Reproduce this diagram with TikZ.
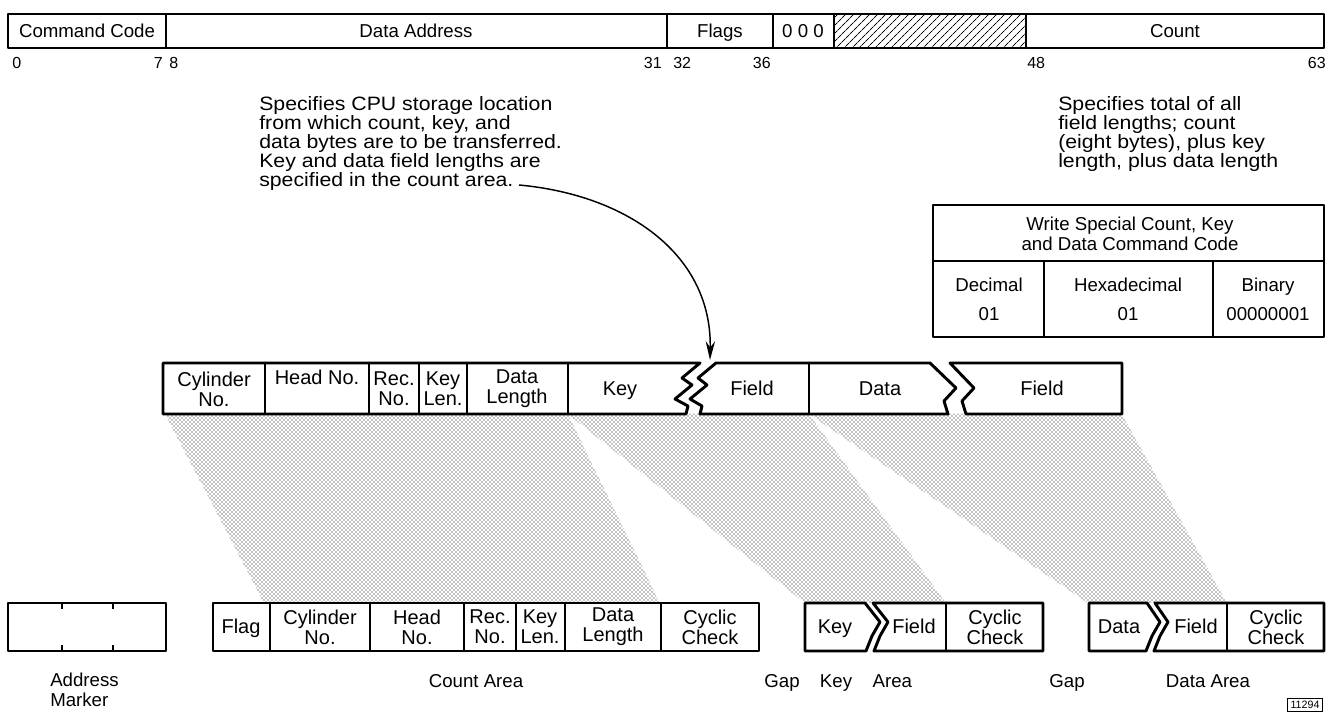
\documentclass[tikz,border=0pt]{standalone}
\usepackage{fontspec}
\setmainfont{Liberation Sans}
\newfontfamily\widefont[FakeStretch=1.1]{Liberation Sans}
\usetikzlibrary{arrows.meta}
\usetikzlibrary{patterns}
\usetikzlibrary{patterns.meta}

\begin{document}
\begin{tikzpicture}[x=0.75pt,y=-0.75pt,>={Stealth[length=14pt,width=7pt]},
		box/.style={draw,line width=2.2pt,line join=round,fill=white},
		sep/.style={draw,line width=1.6pt},
		cell/.style={font=\fontsize{15}{15}\selectfont,align=center,inner sep=0pt},
		lbl/.style={font=\fontsize{14}{15}\selectfont,inner sep=0pt},
		one/.style={text height=10.4pt,text depth=0pt},
		note/.style={font=\widefont\fontsize{14.5}{14.25}\selectfont,align=left,inner sep=0pt,anchor=north west},
		bit/.style={font=\fontsize{12}{12}\selectfont,inner sep=0pt},
		halftone/.style={pattern=crosshatch dots,pattern color=black}
		]
		\useasboundingbox (0,0) rectangle (1329,720);

		% CCW layout
		\fill[pattern={Lines[angle=45,distance=4pt,line width=.7pt]}] (834,14) rectangle (1026,48);
		\draw[box,fill=none] (8,14) rectangle (1324,48);
		\foreach \x in {166,667,773,834,1026}
			\draw[sep] (\x,14) -- (\x,48);
		\node[lbl,one] (cmd) at (87,31) {Command Code};
		\node[lbl,one] (addr) at (416,31) {Data Address};
		\node[lbl,one] (flags) at (720,31) {Flags};
		\node[lbl,one] (zeros) at (803,31) {0 0 0};
		\node[lbl,one] (count) at (1175,31) {Count};
		\foreach \p/\a/\t in {12/west/0,163/east/7,169/west/8,662/east/31,673/west/32,771/east/36,1027/west/48,1326/east/63}
			\node[bit,anchor=\a] (bit\t) at (\p,63) {\t};

		% notes
		\node[note] (cpunote) at (259,96) {Specifies CPU storage location\\from which count, key, and\\data bytes are to be transferred.\\Key and data field lengths are\\specified in the count area.};
		\node[note] (totalnote) at (1058,96) {Specifies total of all\\field lengths; count\\(eight bytes), plus key\\length, plus data length};

		% command code table
		\draw[box] (933,205) rectangle (1324,337);
		\draw[sep] (933,261) -- (1324,261);
		\draw[sep] (1044,261) -- (1044,337);
		\draw[sep] (1213,261) -- (1213,337);
		\node[lbl,align=center] (tabtitle) at (1130,234) {Write Special Count, Key\\and Data Command Code};
		\node[lbl,one] (dec) at (989,285) {Decimal};
		\node[lbl,one] (hex) at (1128,285) {Hexadecimal};
		\node[lbl,one] (bin) at (1268,285) {Binary};
		\node[lbl,one] (decval) at (989,314) {01};
		\node[lbl,one] (hexval) at (1128,314) {01};
		\node[lbl,one] (binval) at (1268,314) {00000001};

		% halftone bands
		\fill[halftone] (165,414) -- (568,414) -- (660,603) -- (264,603) -- cycle;
		\fill[halftone] (568,414) -- (809,414) -- (946,603) -- (805,603) -- cycle;
		\fill[halftone] (809,414) -- (1122,414) -- (1227,603) -- (1088,603) -- cycle;

		% record on track
		\draw[box] (163,363) -- (700,363) -- (682,378) -- (692,385) -- (675,399) -- (688,406) -- (686,414) -- (163,414) -- cycle;
		\draw[box] (716,363) -- (930,363) -- (956,388) -- (944,401) -- (948,414) -- (700,414) -- (702,406) -- (690,399) -- (707,385) -- (698,378) -- cycle;
		\draw[box] (950,363) -- (1122,363) -- (1122,414) -- (966,414) -- (962,401) -- (974,388) -- cycle;
		\foreach \x in {265,369,419,467,568,809}
			\draw[sep] (\x,363) -- (\x,414);
		\node[cell] (cyl) at (214,389) {Cylinder\\No.};
		\node[cell,one,anchor=north] (head) at (317,370) {Head No.};
		\node[cell] (rec) at (394,389) {Rec.\\No.};
		\node[cell] (klen) at (443,389) {Key\\Len.};
		\node[cell] (dlen) at (517,389) {Data\\Length};
		\node[cell,one] (key) at (620,389) {Key};
		\node[cell,one] (kfield) at (752,389) {Field};
		\node[cell,one] (data) at (880,389) {Data};
		\node[cell,one] (dfield) at (1042,389) {Field};

		% arrow from note
		\coordinate (from) at (519,185);
		\coordinate (brk) at (710,360);
		\draw[->,line width=1.1pt] (from) .. controls (628,195) and (712,255) .. (brk);

		% address marker
		\draw[box] (8,603) rectangle (166,651);
		\foreach \x in {62,113}{
			\draw[sep] (\x,603) -- (\x,609);
			\draw[sep] (\x,651) -- (\x,645);
		}
		% count area
		\draw[box] (213,603) rectangle (759,651);
		\foreach \x in {270,370,464,516,565,661}
			\draw[sep] (\x,603) -- (\x,651);
		\node[cell,one] (cflag) at (241,627) {Flag};
		\node[cell] (ccyl) at (320,627) {Cylinder\\No.};
		\node[cell] (chead) at (417,627) {Head\\No.};
		\node[cell] (crec) at (490,627) {Rec.\\No.};
		\node[cell] (cklen) at (540,627) {Key\\Len.};
		\node[cell] (cdlen) at (613,627) {Data\\Length};
		\node[cell] (ccheck) at (710,627) {Cyclic\\Check};
		% key area
		\draw[box] (805,603) -- (865,603) -- (880,622) -- (872,636) -- (866,651) -- (805,651) -- cycle;
		\draw[box] (873,603) -- (1043,603) -- (1043,651) -- (874,651) -- (880,636) -- (888,622) -- cycle;
		\draw[sep] (946,603) -- (946,651);
		\node[cell,one] (kkey) at (835,627) {Key};
		\node[cell,one] (kfld) at (914,627) {Field};
		\node[cell] (kcheck) at (995,627) {Cyclic\\Check};
		% data area
		\draw[box] (1089,603) -- (1147,603) -- (1160,622) -- (1152,636) -- (1146,651) -- (1089,651) -- cycle;
		\draw[box] (1155,603) -- (1324,603) -- (1324,651) -- (1154,651) -- (1160,636) -- (1168,622) -- cycle;
		\draw[sep] (1227,603) -- (1227,651);
		\node[cell,one] (ddata) at (1119,627) {Data};
		\node[cell,one] (dfld) at (1196,627) {Field};
		\node[cell] (dcheck) at (1276,627) {Cyclic\\Check};

		% area names
		\node[lbl,align=left,anchor=north west] (marker) at (50,673) {Address\\Marker};
		\node[lbl,one] (countarea) at (476,681) {Count Area};
		\node[lbl,one] (gap1) at (782,681) {Gap};
		\node[lbl,one] (keyarea) at (866,681) {Key\hspace{1.1em}Area};
		\node[lbl,one] (gap2) at (1067,681) {Gap};
		\node[lbl,one] (dataarea) at (1208,681) {Data Area};
		\node[draw,line width=1pt,font=\fontsize{8}{8}\selectfont,inner sep=2pt,minimum width=26pt] (figno) at (1305,705) {11294};
\end{tikzpicture}
\end{document}
